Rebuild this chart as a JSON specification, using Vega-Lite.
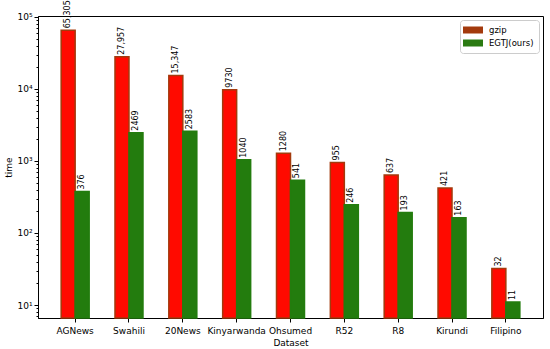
{
  "$schema": "https://vega.github.io/schema/vega-lite/v6.json",
  "width": 505,
  "height": 302,
  "autosize": "none",
  "padding": {"left": 38, "top": 16, "right": 7, "bottom": 31},
  "config": {
    "font": "DejaVu Sans",
    "view": {"stroke": "#000", "strokeWidth": 1},
    "axis": {"grid": false, "domainColor": "#000", "tickColor": "#000", "labelColor": "#000", "titleColor": "#000", "labelFont": "DejaVu Sans", "titleFont": "DejaVu Sans", "labelFontSize": 9, "titleFontSize": 9, "titleFontWeight": "normal"}
  },
  "data": {
    "values": [
      {"dataset": "AGNews", "series": "gzip", "time": 65305, "label": "65,305"},
      {"dataset": "AGNews", "series": "EGTJ(ours)", "time": 376, "label": "376"},
      {"dataset": "Swahili", "series": "gzip", "time": 27957, "label": "27,957"},
      {"dataset": "Swahili", "series": "EGTJ(ours)", "time": 2469, "label": "2469"},
      {"dataset": "20News", "series": "gzip", "time": 15347, "label": "15,347"},
      {"dataset": "20News", "series": "EGTJ(ours)", "time": 2583, "label": "2583"},
      {"dataset": "Kinyarwanda", "series": "gzip", "time": 9730, "label": "9730"},
      {"dataset": "Kinyarwanda", "series": "EGTJ(ours)", "time": 1040, "label": "1040"},
      {"dataset": "Ohsumed", "series": "gzip", "time": 1280, "label": "1280"},
      {"dataset": "Ohsumed", "series": "EGTJ(ours)", "time": 541, "label": "541"},
      {"dataset": "R52", "series": "gzip", "time": 955, "label": "955"},
      {"dataset": "R52", "series": "EGTJ(ours)", "time": 246, "label": "246"},
      {"dataset": "R8", "series": "gzip", "time": 637, "label": "637"},
      {"dataset": "R8", "series": "EGTJ(ours)", "time": 193, "label": "193"},
      {"dataset": "Kirundi", "series": "gzip", "time": 421, "label": "421"},
      {"dataset": "Kirundi", "series": "EGTJ(ours)", "time": 163, "label": "163"},
      {"dataset": "Filipino", "series": "gzip", "time": 32, "label": "32"},
      {"dataset": "Filipino", "series": "EGTJ(ours)", "time": 11, "label": "11"}
    ]
  },
  "encoding": {
    "x": {"field": "dataset", "type": "nominal", "sort": null, "scale": {"paddingInner": 0.48, "paddingOuter": 0.43}, "axis": {"labelAngle": 0, "title": "Dataset", "tickSize": 4, "titlePadding": 3, "labelPadding": 4}},
    "xOffset": {"field": "series", "type": "nominal", "sort": ["gzip", "EGTJ(ours)"], "scale": {"domain": ["gzip", "EGTJ(ours)"]}}
  },
  "layer": [
    {
      "mark": {"type": "bar"},
      "encoding": {
        "y": {"field": "time", "type": "quantitative", "scale": {"type": "log", "domain": [6.6, 103000], "nice": false},
          "axis": {"orient": "left", "values": [10, 100, 1000, 10000, 100000], "tickSize": 4, "title": "time", "titlePadding": 3,
            "labelExpr": "'10' + (datum.value == 10 ? '¹' : datum.value == 100 ? '²' : datum.value == 1000 ? '³' : datum.value == 10000 ? '⁴' : '⁵')"}},
        "y2": {"datum": 6.6},
        "color": {"field": "series", "type": "nominal", "scale": {"domain": ["gzip", "EGTJ(ours)"], "range": ["#a33a0d", "#2a7a12"]},
          "legend": {"title": null, "orient": "top-right", "offset": 4, "padding": 5, "strokeColor": "#cccccc", "fillColor": "white", "cornerRadius": 3, "labelFontSize": 8.5, "labelColor": "#000", "symbolType": "M-1.4,-0.7H2.6V0.7H-1.4Z", "symbolSize": 100, "symbolStrokeWidth": 0, "symbolOpacity": 1, "rowPadding": 3, "labelOffset": 14}}
      }
    },
    {
      "mark": {"type": "bar", "strokeWidth": 1.5},
      "encoding": {
        "y": {"field": "time", "type": "quantitative", "scale": {"type": "log", "domain": [6.6, 103000], "nice": false}, "axis": null},
        "y2": {"datum": 6.6},
        "fill": {"field": "series", "type": "nominal", "scale": {"domain": ["gzip", "EGTJ(ours)"], "range": ["#ff0a00", "#237c0e"]}, "legend": null},
        "stroke": {"field": "series", "type": "nominal", "scale": {"domain": ["gzip", "EGTJ(ours)"], "range": ["#a33a0d", "#237c0e"]}, "legend": null}
      }
    },
    {
      "mark": {"type": "text", "angle": 270, "align": "left", "baseline": "middle", "dx": 2, "fontSize": 8, "color": "#000"},
      "encoding": {
        "y": {"field": "time", "type": "quantitative", "scale": {"type": "log", "domain": [6.6, 103000], "nice": false},
          "axis": {"orient": "left", "values": [7, 8, 9, 20, 30, 40, 50, 60, 70, 80, 90, 200, 300, 400, 500, 600, 700, 800, 900, 2000, 3000, 4000, 5000, 6000, 7000, 8000, 9000, 20000, 30000, 40000, 50000, 60000, 70000, 80000, 90000], "labels": false, "tickSize": 2, "domain": false, "title": null}},
        "text": {"field": "label"}
      }
    }
  ],
  "resolve": {"axis": {"y": "independent"}}
}
